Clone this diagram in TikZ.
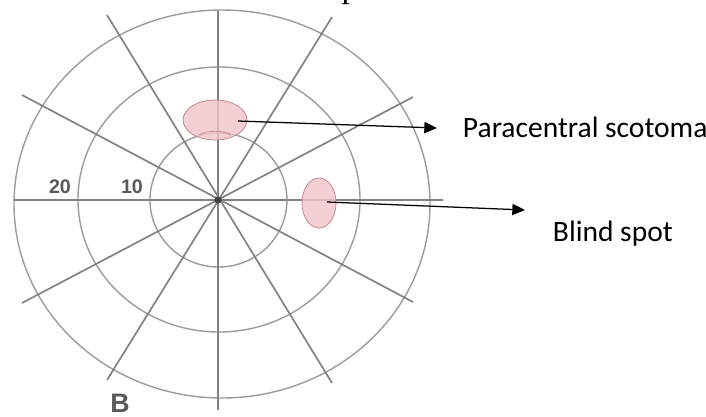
\documentclass[tikz,border=0pt]{standalone}
\usepackage{fontspec}
\setmainfont{Carlito}
\newfontfamily\numfont{Liberation Sans}
\newfontfamily\serfont{Liberation Serif}
\usetikzlibrary{arrows.meta, shapes.geometric}
\definecolor{spotfill}{HTML}{F2C4CA}
\definecolor{spotedge}{HTML}{C98A93}
\definecolor{gridgray}{HTML}{828282}
\definecolor{ringgray}{HTML}{9C9C9C}

\tikzset{
    ring/.style={ringgray, line width=1pt},
    ray/.style={gridgray, line width=1.2pt},
    spot/.style={ellipse, draw=spotedge, fill=spotfill, fill opacity=0.8, draw opacity=1, line width=0.6pt, inner sep=0pt},
    pointer/.style={-{Triangle[length=9pt, width=8pt]}, line width=0.9pt},
    lbl/.style={anchor=base west, font=\fontsize{21}{25}\selectfont},
    deg/.style={anchor=base, text=black!65, font=\numfont\bfseries\fontsize{14}{16}\selectfont}
}

\begin{document}
\begin{tikzpicture}[x=0.025cm, y=-0.025cm]
    \useasboundingbox[fill=white] (0,0) rectangle (706,416);
    \node[anchor=base, font=\serfont\fontsize{24}{28}\selectfont] (ptop) at (350,-3) {p};
    \draw[ring] (218.5,200) ellipse [x radius=68.5, y radius=67];
    \draw[ring] (219,199.5) ellipse [x radius=141, y radius=132.5];
    \draw[ring] (222,204) ellipse [x radius=208, y radius=194];
    \foreach \a/\b in {{218,11}/{218,410}, {14,200}/{443,200}, {107,15}/{332,383}, {332,17}/{107,380}, {22,95}/{413,302}, {413,97}/{22,303}} {
        \draw[ray] (\a) -- (\b);
    }
    \node[circle, fill=gridgray!50!black, inner sep=0pt, minimum size=0.18cm] (fix) at (218,200) {};
    \node[deg] (d20) at (60,193) {20};
    \node[deg] (d10) at (132,193) {10};
    \node[deg, inner sep=0pt, font=\numfont\bfseries\fontsize{19}{22}\selectfont] (fig) at (120,412) {B};
    \node[spot, minimum width=1.6cm, minimum height=1cm] (scot) at (215,120) {};
    \draw[spotedge, line width=0.6pt] (199,135) .. controls (206,130) and (224,130) .. (231,135);
    \node[spot, minimum width=0.85cm, minimum height=1.25cm] (blind) at (319,203) {};
    \node[lbl] (ptext) at (458,137) {Paracentral scotoma};
    \node[lbl] (btext) at (548,241) {Blind spot};
    \coordinate (stip) at (437,128);
    \coordinate (btip) at (525,210);
    \draw[pointer] ([xshift=0.575cm, yshift=-0.025cm]scot.center) -- (stip);
    \draw[pointer] ([xshift=0.2cm, yshift=0.025cm]blind.center) -- (btip);
\end{tikzpicture}
\end{document}
